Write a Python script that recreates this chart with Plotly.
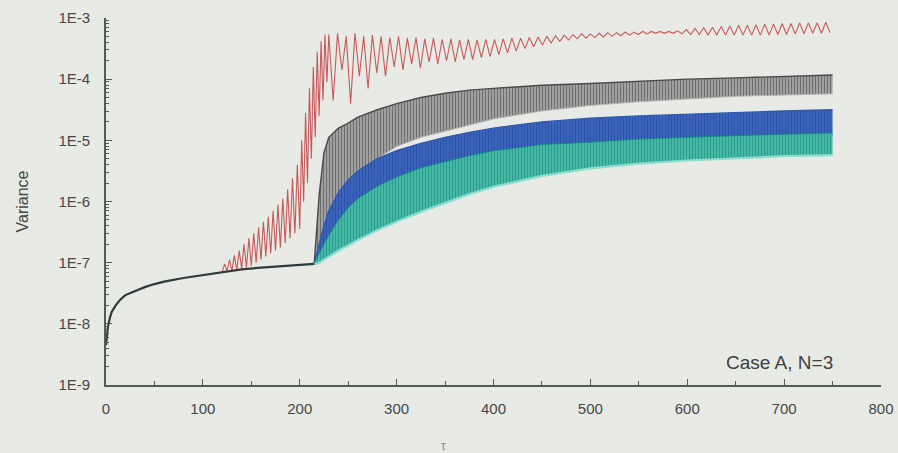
import plotly.graph_objects as go

# ---- shared early growth (all cases coincide) ----
base_t = [0, 1, 2, 4, 6, 10, 15, 20, 30, 40, 50, 60, 80, 100, 120, 140, 160, 180, 200, 210, 215]
base_v = [4.47e-9, 6.31e-9, 8.91e-9, 1.26e-8, 1.58e-8, 2.0e-8, 2.51e-8, 2.95e-8, 3.47e-8, 3.98e-8,
          4.47e-8, 4.9e-8, 5.62e-8, 6.31e-8, 7.08e-8, 7.76e-8, 8.32e-8, 8.71e-8, 9.12e-8, 9.33e-8, 9.55e-8]

# ---- red series: early oscillating growth ----
red_early_t = [120, 122.5, 125, 127.5, 130, 132.5, 135, 137.5, 140, 142.5, 145, 147.5, 150, 152.5, 155,
               157.5, 160, 162.5, 165, 167.5, 170, 172.5, 175, 177.5, 180, 182.5, 185, 187.5, 190, 192.5,
               195, 197.5, 200, 202, 204, 206, 208, 210, 212, 214, 216, 218, 220, 222, 224, 226, 228]
red_early_v = [7.08e-8, 9.55e-8, 7.24e-8, 1.12e-7, 7.41e-8, 1.32e-7, 7.59e-8, 1.58e-7, 7.94e-8, 2.0e-7,
               8.32e-8, 2.51e-7, 8.91e-8, 3.02e-7, 1.0e-7, 3.8e-7, 1.12e-7, 4.68e-7, 1.26e-7, 5.62e-7,
               1.41e-7, 7.08e-7, 1.58e-7, 8.91e-7, 1.78e-7, 1.12e-6, 2.09e-7, 1.58e-6, 2.51e-7, 2.4e-6,
               3.02e-7, 3.98e-6, 3.55e-7, 1.0e-5, 1.0e-6, 2.82e-5, 2.0e-6, 7.08e-5, 5.01e-6, 1.58e-4,
               1.12e-5, 2.82e-4, 2.51e-5, 4.17e-4, 4.47e-5, 5.37e-4, 8.91e-5]

# ---- red series: saturated oscillation (peaks and troughs) ----
red_peak_t = [230, 239, 248, 257, 266, 275, 284, 293, 302, 311, 320, 329, 338, 347, 356, 365, 374, 383,
              392, 401, 410, 419, 428, 437, 446, 455, 464, 473, 482, 491, 500, 509, 518, 527, 536, 545,
              554, 563, 572, 581, 590, 599, 608, 617, 626, 635, 644, 653, 662, 671, 680, 689, 698, 707,
              716, 725, 734, 743]
red_peak_v = [5.37e-4, 5.62e-4, 5.01e-4, 5.62e-4, 5.01e-4, 5.25e-4, 5.01e-4, 4.79e-4, 5.01e-4, 4.68e-4,
              4.79e-4, 4.57e-4, 4.68e-4, 4.47e-4, 4.57e-4, 4.37e-4, 4.47e-4, 4.37e-4, 4.47e-4, 4.47e-4,
              4.57e-4, 4.68e-4, 4.68e-4, 4.79e-4, 4.9e-4, 5.01e-4, 5.13e-4, 5.25e-4, 5.37e-4, 5.5e-4,
              5.5e-4, 5.62e-4, 5.75e-4, 5.75e-4, 5.89e-4, 5.89e-4, 6.03e-4, 6.03e-4, 6.03e-4, 6.03e-4,
              6.17e-4, 6.46e-4, 6.76e-4, 6.92e-4, 7.08e-4, 7.24e-4, 7.41e-4, 7.59e-4, 7.59e-4, 7.76e-4,
              7.94e-4, 7.94e-4, 8.13e-4, 8.13e-4, 8.32e-4, 8.32e-4, 8.32e-4, 8.51e-4]
red_trough_t = [234.5, 243.5, 252.5, 261.5, 270.5, 279.5, 288.5, 297.5, 306.5, 315.5, 324.5, 333.5, 342.5,
                351.5, 360.5, 369.5, 378.5, 387.5, 396.5, 405.5, 414.5, 423.5, 432.5, 441.5, 450.5, 459.5,
                468.5, 477.5, 486.5, 495.5, 504.5, 513.5, 522.5, 531.5, 540.5, 549.5, 558.5, 567.5, 576.5,
                585.5, 594.5, 603.5, 612.5, 621.5, 630.5, 639.5, 648.5, 657.5, 666.5, 675.5, 684.5, 693.5,
                702.5, 711.5, 720.5, 729.5, 738.5, 747.5]
red_trough_v = [4.47e-5, 1.41e-4, 3.98e-5, 1.12e-4, 7.08e-5, 1.26e-4, 1.12e-4, 1.58e-4, 1.41e-4, 1.78e-4,
                1.51e-4, 1.91e-4, 1.78e-4, 2.0e-4, 1.91e-4, 2.09e-4, 2.09e-4, 2.24e-4, 2.34e-4, 2.51e-4,
                2.69e-4, 2.88e-4, 3.16e-4, 3.39e-4, 3.63e-4, 3.89e-4, 4.17e-4, 4.37e-4, 4.57e-4, 4.68e-4,
                4.79e-4, 4.9e-4, 5.01e-4, 5.13e-4, 5.25e-4, 5.37e-4, 5.5e-4, 5.62e-4, 5.62e-4, 5.62e-4,
                5.5e-4, 5.37e-4, 5.37e-4, 5.25e-4, 5.25e-4, 5.25e-4, 5.25e-4, 5.25e-4, 5.25e-4, 5.25e-4,
                5.25e-4, 5.37e-4, 5.37e-4, 5.5e-4, 5.5e-4, 5.62e-4, 5.62e-4, 5.75e-4]

# ---- dense oscillation bands (upper / lower envelopes) ----
band_t = [215, 220, 225, 230, 240, 250, 260, 280, 300, 325, 350, 375, 400, 450, 500, 550, 600, 650, 700, 750]
black_hi = [1.0e-7, 1.26e-6, 6.31e-6, 1.12e-5, 1.58e-5, 1.91e-5, 2.4e-5, 3.16e-5, 3.98e-5, 5.01e-5,
            5.89e-5, 6.61e-5, 7.08e-5, 7.94e-5, 8.51e-5, 9.33e-5, 1.0e-4, 1.05e-4, 1.1e-4, 1.17e-4]
black_lo = [9.33e-8, 1.58e-7, 3.16e-7, 6.31e-7, 1.26e-6, 2.0e-6, 3.16e-6, 5.01e-6, 7.94e-6, 1.12e-5,
            1.41e-5, 1.78e-5, 2.24e-5, 3.02e-5, 3.72e-5, 4.27e-5, 4.79e-5, 5.25e-5, 5.5e-5, 5.75e-5]
blue_hi = [1.0e-7, 2.0e-7, 3.98e-7, 7.08e-7, 1.41e-6, 2.24e-6, 3.16e-6, 5.01e-6, 6.76e-6, 8.91e-6,
           1.12e-5, 1.35e-5, 1.58e-5, 2.0e-5, 2.29e-5, 2.51e-5, 2.69e-5, 2.88e-5, 3.02e-5, 3.16e-5]
blue_lo = [9.33e-8, 1.26e-7, 1.78e-7, 2.51e-7, 3.98e-7, 5.62e-7, 7.94e-7, 1.26e-6, 1.78e-6, 2.51e-6,
           3.31e-6, 4.17e-6, 5.01e-6, 6.61e-6, 7.94e-6, 8.91e-6, 1.0e-5, 1.07e-5, 1.12e-5, 1.17e-5]
teal_hi = [1.0e-7, 1.41e-7, 2.0e-7, 2.82e-7, 5.01e-7, 7.94e-7, 1.12e-6, 1.78e-6, 2.51e-6, 3.55e-6,
           4.47e-6, 5.62e-6, 6.76e-6, 8.51e-6, 9.33e-6, 1.05e-5, 1.12e-5, 1.2e-5, 1.26e-5, 1.32e-5]
teal_lo = [9.33e-8, 1.0e-7, 1.12e-7, 1.26e-7, 1.58e-7, 1.91e-7, 2.34e-7, 3.39e-7, 4.68e-7, 6.76e-7,
           9.55e-7, 1.32e-6, 1.74e-6, 2.63e-6, 3.47e-6, 4.17e-6, 4.68e-6, 5.13e-6, 5.5e-6, 5.75e-6]

y_tick_vals = [1e-9, 1e-8, 1e-7, 1e-6, 1e-5, 1e-4, 1e-3]
y_tick_text = ["1E-9", "1E-8", "1E-7", "1E-6", "1E-5", "1E-4", "1E-3"]
x_tick_vals = [0, 100, 200, 300, 400, 500, 600, 700, 800]

# interleave red peaks/troughs into the drawn path
red_t = list(red_early_t)
red_v = list(red_early_v)
for pt, pv, tt, tv in zip(red_peak_t, red_peak_v, red_trough_t, red_trough_v):
    red_t += [pt, tt]
    red_v += [pv, tv]

BG = "#e8eae5"
AX = "#555a58"
FONT = "Liberation Sans, Arial, sans-serif"
TXT = "#474747"

fig = go.Figure()

# red
fig.add_trace(go.Scatter(x=red_t, y=red_v, mode="lines",
                         line=dict(color="#c65a5a", width=1.1), showlegend=False, hoverinfo="skip"))

def add_band(lo, hi, fg, bg, edge_lo, edge_hi, w_lo, w_hi):
    fig.add_trace(go.Scatter(x=band_t, y=lo, mode="lines", line=dict(color=edge_lo, width=w_lo),
                             showlegend=False, hoverinfo="skip"))
    fig.add_trace(go.Scatter(x=band_t, y=hi, mode="lines", line=dict(color=edge_hi, width=w_hi),
                             fill="tonexty", fillcolor=bg,
                             fillpattern=dict(shape="|", fgcolor=fg, bgcolor=bg, size=3, solidity=0.45),
                             showlegend=False, hoverinfo="skip"))

add_band(black_lo, black_hi, "#333333", "#a9aaa8", "#b5b6b4", "#4a4a4a", 1.0, 1.4)
add_band(blue_lo, blue_hi, "#173a98", "#3f68bd", "#3f68bd", "#2f58b0", 0.6, 1.4)
add_band(teal_lo, teal_hi, "#08806f", "#4dbcab", "#8ddccf", "#0f8a79", 2.2, 0.8)

# shared base curve
fig.add_trace(go.Scatter(x=base_t, y=base_v, mode="lines",
                         line=dict(color="#2f3b3a", width=2.2), showlegend=False, hoverinfo="skip"))

minor_y = [m * 10.0 ** e for e in range(-9, -3) for m in range(2, 10)]

fig.update_layout(
    width=898, height=453,
    margin=dict(l=106, r=17, t=18, b=68),
    paper_bgcolor=BG, plot_bgcolor=BG,
    font=dict(family=FONT, size=14, color=TXT),
    xaxis=dict(range=[0, 800], tickmode="array", tickvals=x_tick_vals, automargin=False,
               showgrid=False, zeroline=False, showline=True, linecolor=AX, linewidth=1.6,
               ticks="inside", ticklen=6, tickwidth=1.2, tickcolor=AX, ticklabelstandoff=9,
               minor=dict(ticks="inside", ticklen=4, tickcolor=AX, dtick=50, showgrid=False),
               tickfont=dict(size=15, color=TXT)),
    yaxis=dict(type="log", range=[-9, -3], tickmode="array", tickvals=y_tick_vals, ticktext=y_tick_text,
               automargin=False,
               showgrid=False, zeroline=False, showline=True, linecolor=AX, linewidth=1.6,
               ticks="inside", ticklen=6, tickwidth=1.2, tickcolor=AX, ticklabelstandoff=11,
               minor=dict(ticks="inside", ticklen=3, tickcolor=AX, tickmode="array", tickvals=minor_y,
                          showgrid=False),
               tickfont=dict(size=15, color=TXT),
               title=dict(text="Variance", font=dict(size=16, color=TXT), standoff=26)),
    annotations=[
        dict(x=752, y=-8.64, xref="x", yref="y", text="Case A, N=3", showarrow=False,
             xanchor="right", yanchor="middle",
             font=dict(family=FONT, size=19, color="#3f3f3f")),
        dict(x=0.435, y=-0.165, xref="paper", yref="paper", text="τ", showarrow=False,
             xanchor="center", yanchor="middle",
             font=dict(family=FONT, size=12, color="#8a8a8a")),
    ],
)

fig.write_html("out.html", config={"displayModeBar": False},
               post_script="document.body.style.margin='0px';document.body.style.background='#e8eae5';")
